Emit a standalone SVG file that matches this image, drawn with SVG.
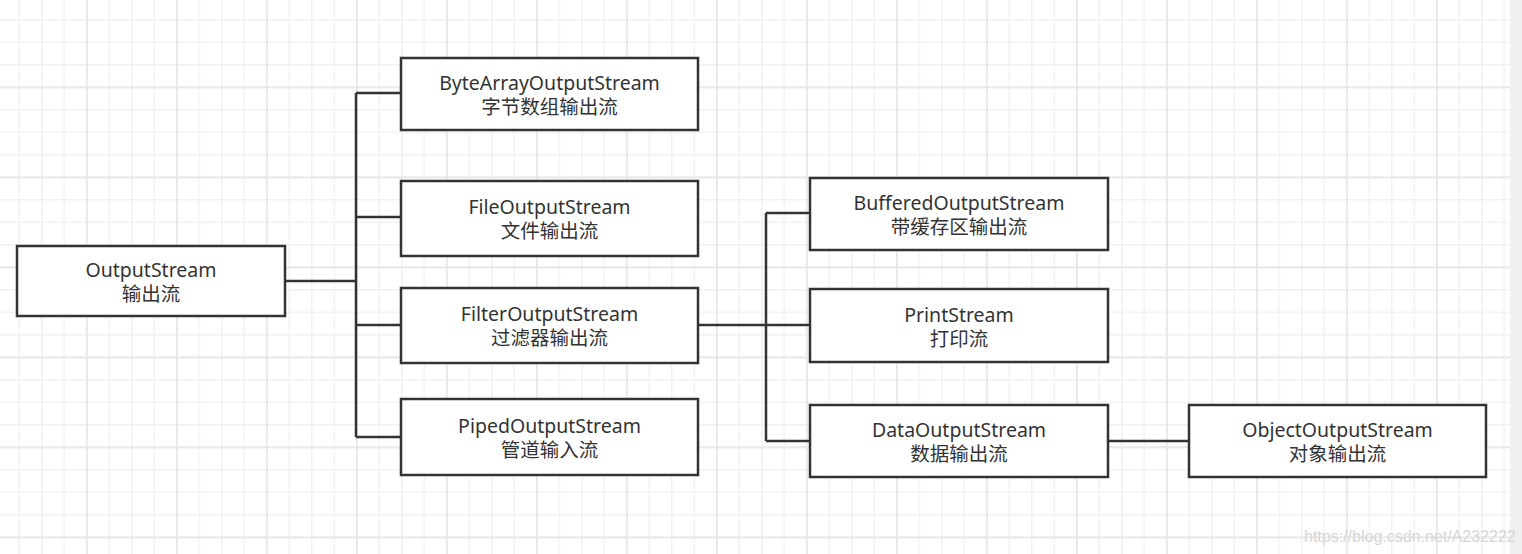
<svg xmlns="http://www.w3.org/2000/svg" width="1522" height="554" viewBox="0 0 1522 554">
<style>
.box{fill:#fff;stroke:#333;stroke-width:2.5}
.t{font-family:"Noto Sans","Noto Sans CJK SC",sans-serif;font-size:19.5px;fill:#333;text-anchor:middle}
.c{fill:none;stroke:#333;stroke-width:2.5}
.wm{font-family:"Liberation Sans",sans-serif;font-size:16px;fill:#d6d6d6}
</style>
<defs>
<pattern id="minor" width="22.5" height="22.5" patternUnits="userSpaceOnUse" x="18.5" y="19">
<path d="M0 0V22.5M0 0H22.5" stroke="#f1f1f1" stroke-width="3" fill="none"/>
</pattern>
<pattern id="major" width="90" height="90" patternUnits="userSpaceOnUse" x="86" y="86.5">
<path d="M0 0V90M0 0H90" stroke="#e5e5e5" stroke-width="3" fill="none"/>
</pattern>
</defs>
<rect width="1522" height="554" fill="#fff"/>
<rect width="1522" height="554" fill="url(#minor)"/>
<rect width="1522" height="554" fill="url(#major)"/>
<rect x="1510" y="0" width="12" height="554" fill="#f0f0f0"/>
<g id="connectors">
<path class="c" d="M285 281H356M356 93V437M356 93H401M356 217H401M356 325H401M356 437H401"/>
<path class="c" d="M699 325H810M766 213V441M766 213H810M766 441H810"/>
<path class="c" d="M1109 441H1188"/>
</g>
<g id="n-outputstream"><rect class="box" x="17" y="246" width="268" height="70"/><text class="t" x="151" y="277">OutputStream</text><text class="t" x="151" y="301">输出流</text></g>
<g id="n-bytearray"><rect class="box" x="401" y="58" width="297" height="72"/><text class="t" x="549.5" y="90">ByteArrayOutputStream</text><text class="t" x="549.5" y="114">字节数组输出流</text></g>
<g id="n-file"><rect class="box" x="401" y="181" width="297" height="75"/><text class="t" x="549.5" y="214">FileOutputStream</text><text class="t" x="549.5" y="238">文件输出流</text></g>
<g id="n-filter"><rect class="box" x="401" y="288" width="297" height="75"/><text class="t" x="549.5" y="321">FilterOutputStream</text><text class="t" x="549.5" y="345">过滤器输出流</text></g>
<g id="n-piped"><rect class="box" x="401" y="399" width="297" height="76"/><text class="t" x="549.5" y="433">PipedOutputStream</text><text class="t" x="549.5" y="457">管道输入流</text></g>
<g id="n-buffered"><rect class="box" x="810" y="178" width="298" height="72"/><text class="t" x="959" y="210">BufferedOutputStream</text><text class="t" x="959" y="234">带缓存区输出流</text></g>
<g id="n-print"><rect class="box" x="810" y="289" width="298" height="73"/><text class="t" x="959" y="322">PrintStream</text><text class="t" x="959" y="346">打印流</text></g>
<g id="n-data"><rect class="box" x="810" y="405" width="298" height="72"/><text class="t" x="959" y="437">DataOutputStream</text><text class="t" x="959" y="461">数据输出流</text></g>
<g id="n-object"><rect class="box" x="1189" y="405" width="297" height="72"/><text class="t" x="1337.5" y="437">ObjectOutputStream</text><text class="t" x="1337.5" y="461">对象输出流</text></g>
<text class="wm" x="1304" y="542">https://blog.csdn.net/A232222</text>
</svg>
